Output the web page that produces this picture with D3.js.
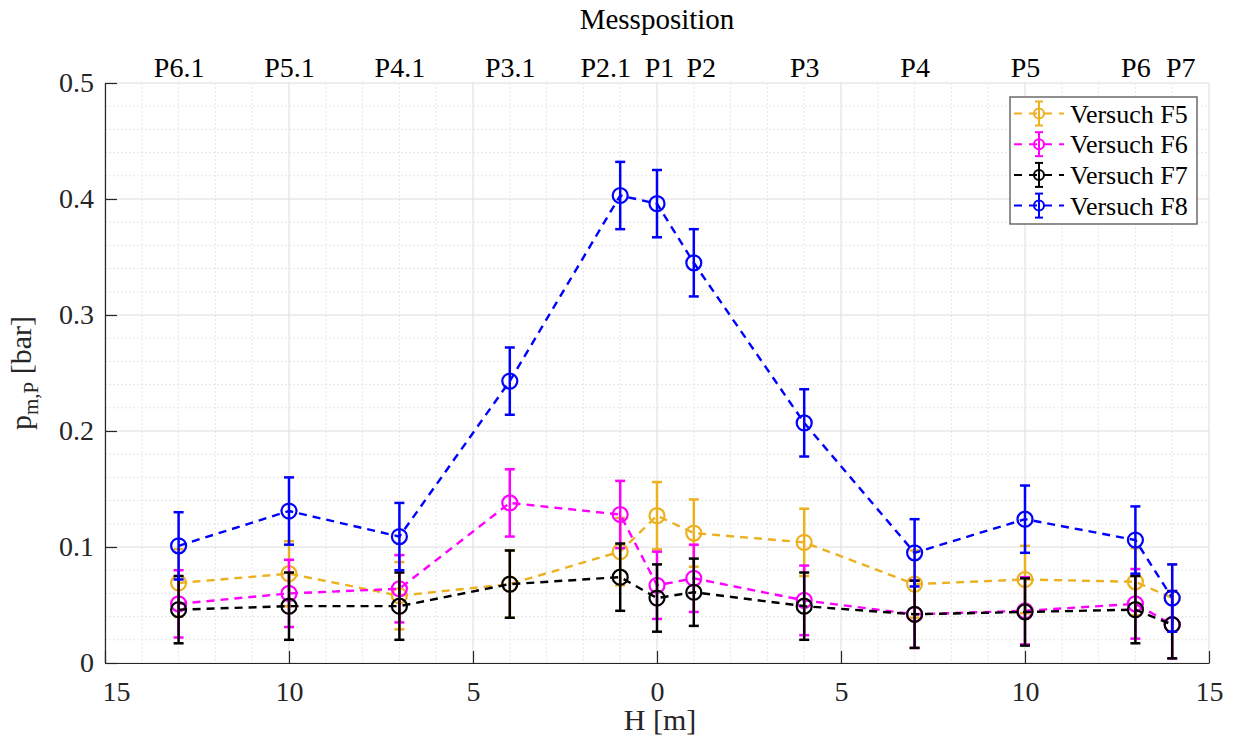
<!DOCTYPE html>
<html>
<head>
<meta charset="utf-8">
<script src="https://cdn.jsdelivr.net/npm/d3@7"></script>
<style>
  body { margin: 0; background: #fff; }
  svg, svg text { font-family: "Liberation Serif", "Times New Roman", serif; }
  .grid-major line { stroke: #dcdcdc; stroke-width: 1; }
  .grid-minor line { stroke: #e6e6e6; stroke-width: 1; stroke-dasharray: 2,2; }
  .axis path, .axis line { stroke: #262626; stroke-width: 1.2; }
  .axis text { fill: #262626; font-size: 28px; }
  .labeltext { fill: #262626; font-size: 30px; }
</style>
</head>
<body>
<script>
// measuring positions (H in m) and their names
var positions = [-13, -10, -7, -4, -1, 0, 1, 4, 7, 10, 13, 14];
var posNames = ["P6.1", "P5.1", "P4.1", "P3.1", "P2.1", "P1", "P2", "P3", "P4", "P5", "P6", "P7"];

// mean pressure p_m,P [bar] and error bar half width
var f5 = [0.069, 0.077, 0.058, 0.068, 0.096, 0.127, 0.112, 0.104, 0.068, 0.072, 0.070, 0.056];
var f5err = [0.029, 0.028, 0.029, 0.029, 0.029, 0.029, 0.029, 0.029, 0.029, 0.029, 0.029, 0.029];
var f6 = [0.051, 0.060, 0.064, 0.138, 0.128, 0.067, 0.073, 0.054, 0.042, 0.045, 0.051, 0.033];
var f6err = [0.029, 0.029, 0.029, 0.029, 0.029, 0.029, 0.029, 0.030, 0.029, 0.029, 0.030, 0.029];
var f7 = [0.046, 0.049, 0.049, 0.068, 0.074, 0.056, 0.061, 0.049, 0.042, 0.044, 0.046, 0.033];
var f7err = [0.029, 0.029, 0.029, 0.029, 0.029, 0.029, 0.029, 0.029, 0.029, 0.029, 0.029, 0.029];
var f8 = [0.101, 0.131, 0.109, 0.243, 0.403, 0.396, 0.345, 0.207, 0.095, 0.124, 0.106, 0.056];
var f8err = [0.029, 0.029, 0.029, 0.029, 0.029, 0.029, 0.029, 0.029, 0.029, 0.029, 0.029, 0.029];

var seriesNames = ["Versuch F5", "Versuch F6", "Versuch F7", "Versuch F8"];
var seriesColors = ["#EDB120", "#FF00FF", "#000000", "#0000FF"];

var xTicks = [-15, -10, -5, 0, 5, 10, 15];
var yTicks = [0, 0.1, 0.2, 0.3, 0.4, 0.5];

var series = [
  {name: seriesNames[0], color: seriesColors[0], vals: f5, err: f5err},
  {name: seriesNames[1], color: seriesColors[1], vals: f6, err: f6err},
  {name: seriesNames[2], color: seriesColors[2], vals: f7, err: f7err},
  {name: seriesNames[3], color: seriesColors[3], vals: f8, err: f8err}
];

var serif = "'Liberation Serif', 'Times New Roman', serif";

// set the dimensions and margins of the graph
var margin = {top: 83, right: 25, bottom: 75, left: 105},
    width = 1234 - margin.left - margin.right,
    height = 738 - margin.top - margin.bottom;

var root = d3.select("body").append("svg")
    .attr("width", 1234)
    .attr("height", 738);

var svg = root.append("g")
    .attr("transform", "translate(" + margin.left + "," + margin.top + ")");

var x = d3.scaleLinear().domain([-15, 15]).range([0, width]);
var y = d3.scaleLinear().domain([0, 0.5]).range([height, 0]);

// minor grid
var gMinor = svg.append("g").attr("class", "grid-minor");
gMinor.selectAll("line.vx")
    .data(d3.range(-15, 16).filter(function(d) { return d % 5 !== 0; }))
  .enter().append("line")
    .attr("class", "vx")
    .attr("x1", function(d) { return x(d); })
    .attr("x2", function(d) { return x(d); })
    .attr("y1", 0).attr("y2", height);
gMinor.selectAll("line.hy")
    .data(d3.range(1, 25).filter(function(d) { return d % 5 !== 0; }).map(function(d) { return d * 0.02; }))
  .enter().append("line")
    .attr("class", "hy")
    .attr("y1", function(d) { return y(d); })
    .attr("y2", function(d) { return y(d); })
    .attr("x1", 0).attr("x2", width);

// major grid
var gMajor = svg.append("g").attr("class", "grid-major");
gMajor.selectAll("line.vx")
    .data(xTicks)
  .enter().append("line")
    .attr("class", "vx")
    .attr("x1", function(d) { return x(d); })
    .attr("x2", function(d) { return x(d); })
    .attr("y1", 0).attr("y2", height);
gMajor.selectAll("line.hy")
    .data(yTicks)
  .enter().append("line")
    .attr("class", "hy")
    .attr("y1", function(d) { return y(d); })
    .attr("y2", function(d) { return y(d); })
    .attr("x1", 0).attr("x2", width);

// bottom axis, labels show |H|
var xAxis = svg.append("g")
    .attr("class", "axis")
    .attr("transform", "translate(0," + height + ")")
    .call(d3.axisBottom(x).tickValues(xTicks)
      .tickFormat(function(d) { return Math.abs(d); })
      .tickSizeInner(-12).tickSizeOuter(0).tickPadding(18))
    .attr("font-family", serif);
xAxis.selectAll("text").filter(function(d) { return d === -15; }).attr("dx", 11);

// left axis
svg.append("g")
    .attr("class", "axis")
    .call(d3.axisLeft(y).tickValues(yTicks)
      .tickFormat(function(d) { return d === 0 ? "0" : d3.format(".1f")(d); })
      .tickSizeInner(-12).tickSizeOuter(0).tickPadding(11))
    .attr("font-family", serif);

// top axis with measuring position names
var topAxis = svg.append("g")
    .attr("class", "axis")
    .call(d3.axisTop(x).tickValues(positions)
      .tickFormat(function(d, i) { return posNames[i]; })
      .tickSize(0).tickPadding(6))
    .attr("font-family", serif);
topAxis.select(".domain").remove();
// nudge crowded labels apart like the original
var nudge = {"P2.1": -15, "P1": 2, "P2": 7, "P7": 8};
topAxis.selectAll("text")
    .style("fill", "#000")
    .attr("dx", function(d, i) { return nudge[posNames[i]] || 0; });

// series: dashed line, error bars, circles
var line = d3.line()
    .x(function(d) { return x(d.h); })
    .y(function(d) { return y(d.v); });

series.forEach(function(s) {
  var pts = positions.map(function(h, i) { return {h: h, v: s.vals[i], e: s.err[i]}; });
  var g = svg.append("g");

  g.append("path")
      .datum(pts)
      .attr("fill", "none")
      .attr("stroke", s.color)
      .attr("stroke-width", 2.4)
      .attr("stroke-dasharray", "8,6")
      .attr("d", line);

  var eb = g.selectAll("g.eb")
      .data(pts)
    .enter().append("g")
      .attr("stroke", s.color)
      .attr("stroke-width", 2.5);
  eb.append("line")
      .attr("x1", function(d) { return x(d.h); })
      .attr("x2", function(d) { return x(d.h); })
      .attr("y1", function(d) { return y(d.v - d.e); })
      .attr("y2", function(d) { return y(d.v + d.e); });
  eb.append("line")
      .attr("x1", function(d) { return x(d.h) - 5; })
      .attr("x2", function(d) { return x(d.h) + 5; })
      .attr("y1", function(d) { return y(d.v + d.e); })
      .attr("y2", function(d) { return y(d.v + d.e); });
  eb.append("line")
      .attr("x1", function(d) { return x(d.h) - 5; })
      .attr("x2", function(d) { return x(d.h) + 5; })
      .attr("y1", function(d) { return y(d.v - d.e); })
      .attr("y2", function(d) { return y(d.v - d.e); });

  g.selectAll("circle")
      .data(pts)
    .enter().append("circle")
      .attr("r", 7.5)
      .attr("cx", function(d) { return x(d.h); })
      .attr("cy", function(d) { return y(d.v); })
      .attr("fill", "none")
      .attr("stroke", s.color)
      .attr("stroke-width", 2.2);
});

// legend
var legend = svg.append("g")
    .attr("transform", "translate(" + (width - 199) + ",14)");
legend.append("rect")
    .attr("width", 187)
    .attr("height", 127)
    .attr("fill", "#fff")
    .attr("stroke", "#6b6b6b")
    .attr("stroke-width", 1.5);

var item = legend.selectAll("g.item")
    .data(series)
  .enter().append("g")
    .attr("transform", function(d, i) { return "translate(0," + (16.5 + i * 30.7) + ")"; });
item.append("line")
    .attr("x1", 4).attr("x2", 54)
    .attr("stroke", function(d) { return d.color; })
    .attr("stroke-width", 2)
    .attr("stroke-dasharray", "8,7");
item.append("line")
    .attr("x1", 29).attr("x2", 29).attr("y1", -12).attr("y2", 12)
    .attr("stroke", function(d) { return d.color; })
    .attr("stroke-width", 2);
item.append("line")
    .attr("x1", 25).attr("x2", 33).attr("y1", -12).attr("y2", -12)
    .attr("stroke", function(d) { return d.color; })
    .attr("stroke-width", 2);
item.append("line")
    .attr("x1", 25).attr("x2", 33).attr("y1", 12).attr("y2", 12)
    .attr("stroke", function(d) { return d.color; })
    .attr("stroke-width", 2);
item.append("circle")
    .attr("cx", 29).attr("r", 5)
    .attr("fill", "none")
    .attr("stroke", function(d) { return d.color; })
    .attr("stroke-width", 2);
item.append("text")
    .attr("x", 60)
    .attr("y", 9)
    .style("font-size", "26px")
    .style("fill", "#000")
    .text(function(d) { return d.name; });

// axis titles
root.append("text")
    .attr("x", margin.left + width / 2)
    .attr("y", 29)
    .style("text-anchor", "middle")
    .style("font-size", "29px")
    .style("fill", "#000")
    .text("Messposition");

root.append("text")
    .attr("x", margin.left + width / 2 + 3)
    .attr("y", 730)
    .style("text-anchor", "middle")
    .attr("class", "labeltext")
    .text("H [m]");

var yl = root.append("text")
    .attr("transform", "translate(31," + (margin.top + height / 2) + ") rotate(-90)")
    .style("text-anchor", "middle")
    .attr("class", "labeltext");
yl.append("tspan").text("p");
yl.append("tspan").attr("dy", 7).style("font-size", "21px").text("m,P");
yl.append("tspan").attr("dy", -7).text(" [bar]");
</script>
</body>
</html>
